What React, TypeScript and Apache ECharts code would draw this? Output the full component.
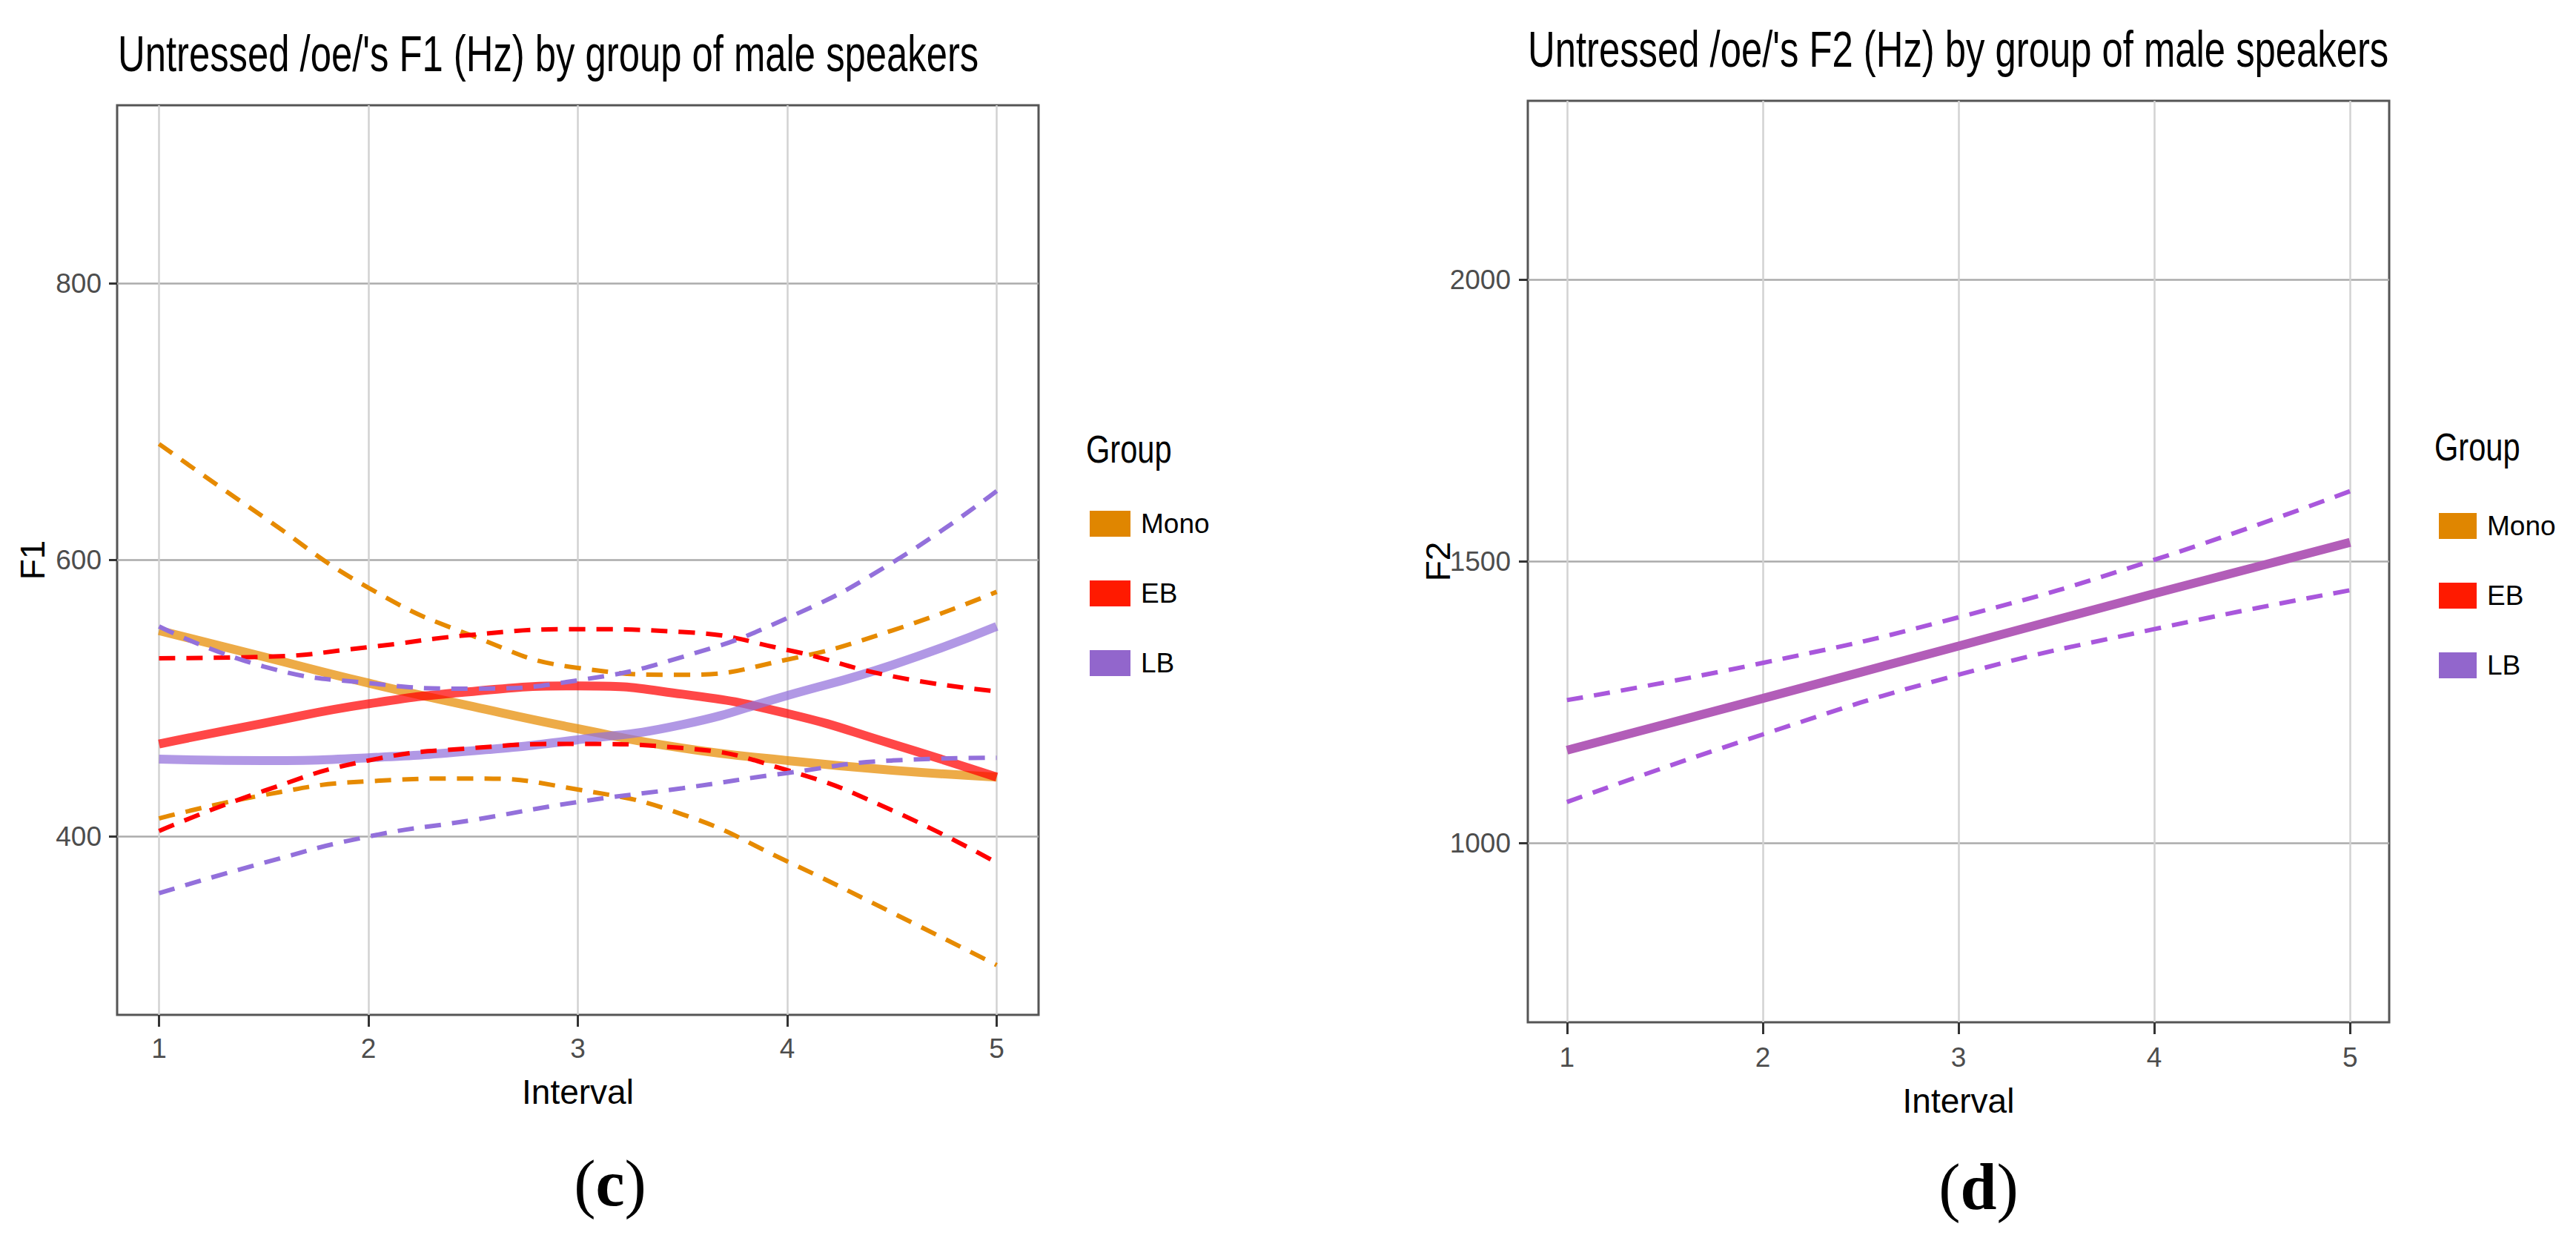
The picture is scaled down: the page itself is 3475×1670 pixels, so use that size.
import React, { useEffect, useRef } from "react";
import * as echarts from "echarts";

// ---------- data ----------
const GROUPS = ["Mono", "EB", "LB"];
const GROUP_SWATCH = ["#E08600", "#FF1A00", "#9266CC"];
const GROUP_LINE = ["#E68A00", "#FF0000", "#9370DB"];

const X_TICKS = [1, 2, 3, 4, 5];
const F1_TICKS = [400, 600, 800];
const F2_TICKS = [1000, 1500, 2000];

// F1 panel (c): fitted curve and confidence bounds, sampled along Interval
const F1_X = [1, 1.5, 2, 2.5, 3, 3.5, 4, 4.5, 5];
const F1_MONO_FIT = [549, 530, 511, 494, 478, 464, 455, 448, 443];
const F1_MONO_UPPER = [684, 631, 580, 545, 522, 517, 528, 549, 577];
const F1_MONO_LOWER = [413, 430, 440, 442, 434, 416, 382, 345, 307];
const F1_EB_FIT = [467, 482, 496, 505, 509, 503, 489, 467, 443];
const F1_EB_UPPER = [529, 530, 537, 546, 550, 548, 535, 516, 505];
const F1_EB_LOWER = [404, 433, 455, 464, 467, 464, 448, 419, 381];
const F1_LB_FIT = [456, 455, 457, 462, 470, 481, 502, 524, 552];
const F1_LB_UPPER = [552, 523, 511, 507, 513, 530, 558, 598, 650];
const F1_LB_LOWER = [359, 381, 400, 412, 425, 435, 446, 455, 457];

// F2 panel (d)
const F2_X = [1, 2, 3, 4, 5];
const F2_LB_FIT = [1165, 1257, 1350, 1443, 1534];
const F2_LB_UPPER = [1254, 1320, 1401, 1503, 1625];
const F2_LB_LOWER = [1073, 1193, 1299, 1380, 1449];

const TITLE_F1 = "Untressed /oe/'s F1 (Hz) by group of male speakers";
const TITLE_F2 = "Untressed /oe/'s F2 (Hz) by group of male speakers";

const F2_FIT_COLOR = "#B25DB8";
const F2_BAND_COLOR = "#A957DC";

const FONT = "'Liberation Sans', Arial, sans-serif";
const SERIF = "'Liberation Serif', 'Times New Roman', serif";

const pts = (xs: number[], ys: number[]) => xs.map((x, i) => [x, ys[i]]);

function fitLine(name: string, xs: number[], ys: number[], color: string, g: number, width: number, opacity: number) {
  return {
    type: "line",
    name,
    xAxisIndex: g,
    yAxisIndex: g,
    data: pts(xs, ys),
    smooth: 0.5,
    symbol: "none",
    showSymbol: false,
    silent: true,
    z: 2,
    itemStyle: { color },
    lineStyle: { color, width, opacity, cap: "butt" },
  };
}

function bandLine(name: string, xs: number[], ys: number[], color: string, g: number) {
  return {
    type: "line",
    name,
    xAxisIndex: g,
    yAxisIndex: g,
    data: pts(xs, ys),
    smooth: 0.5,
    symbol: "none",
    showSymbol: false,
    silent: true,
    z: 3,
    itemStyle: { color },
    lineStyle: { color, width: 6, type: [22, 15], cap: "butt" },
  };
}

function xAxisCfg(g: number, labelMargin: number, nameGap: number) {
  return {
    type: "value",
    gridIndex: g,
    min: 0.8,
    max: 5.2,
    name: "Interval",
    nameLocation: "middle",
    nameGap,
    nameMoveOverlap: false,
    nameTextStyle: { fontFamily: FONT, fontSize: 46, color: "#000" },
    axisLine: { show: false },
    axisTick: { show: true, length: 16, lineStyle: { color: "#333", width: 3 }, customValues: X_TICKS },
    axisLabel: { margin: labelMargin, fontFamily: FONT, fontSize: 37, color: "#4D4D4D", customValues: X_TICKS, formatter: (v: number) => String(v) },
    splitLine: { show: true, lineStyle: { color: "#D2D2D2", width: 2.5 } },
  };
}

function yAxisCfg(g: number, min: number, max: number, ticks: number[], name: string, labelMargin: number, nameGap: number, tickLen: number) {
  return {
    type: "value",
    gridIndex: g,
    min,
    max,
    name,
    nameLocation: "middle",
    nameGap,
    nameMoveOverlap: false,
    nameTextStyle: { fontFamily: FONT, fontSize: 46, color: "#000" },
    axisLine: { show: false },
    axisTick: { show: true, length: tickLen, lineStyle: { color: "#333", width: 3 }, customValues: ticks },
    axisLabel: { margin: labelMargin, fontFamily: FONT, fontSize: 37, color: "#4D4D4D", customValues: ticks, formatter: (v: number) => String(v) },
    splitLine: { show: true, lineStyle: { color: "#ABABAB", width: 2.5 } },
  };
}

function legendCfg(left: number, top: number, itemWidth: number) {
  return {
    orient: "vertical",
    left,
    top,
    itemWidth,
    itemHeight: 35,
    itemGap: 57,
    padding: 0,
    icon: "rect",
    selectedMode: false,
    textStyle: { fontFamily: FONT, fontSize: 37, color: "#000", lineHeight: 35, padding: [0, 0, 0, 9] },
    data: GROUPS.map((g, k) => ({ name: g, itemStyle: { color: GROUP_SWATCH[k], borderWidth: 0, opacity: 1 } })),
  };
}

function scaledText(text: string, x: number, y: number, size: number, scaleX: number) {
  return {
    type: "text",
    x,
    y,
    scaleX,
    silent: true,
    style: { text, fontFamily: FONT, fontSize: size, fill: "#000", align: "left", verticalAlign: "middle" },
  };
}

function panelTag(letter: string, x: number, y: number) {
  return {
    type: "text",
    x,
    y,
    silent: true,
    style: {
      text: "{p|(}{b|" + letter + "}{p|)}",
      align: "center",
      verticalAlign: "middle",
      rich: {
        p: { fontFamily: SERIF, fontSize: 88, fill: "#000", color: "#000" },
        b: { fontFamily: SERIF, fontSize: 88, fontWeight: "bold", fill: "#000", color: "#000" },
      },
    },
  };
}

export default function App() {
  const ref = useRef<HTMLDivElement>(null);

  useEffect(() => {
    if (!ref.current) return;
    const chart = echarts.init(ref.current, undefined, { renderer: "svg" });

    const fits = [F1_MONO_FIT, F1_EB_FIT, F1_LB_FIT];
    const uppers = [F1_MONO_UPPER, F1_EB_UPPER, F1_LB_UPPER];
    const lowers = [F1_MONO_LOWER, F1_EB_LOWER, F1_LB_LOWER];

    const series: any[] = [];
    GROUPS.forEach((g, k) => {
      series.push(fitLine(g, F1_X, fits[k], GROUP_LINE[k], 0, 12, 0.72));
    });
    GROUPS.forEach((g, k) => {
      series.push(bandLine(g, F1_X, uppers[k], GROUP_LINE[k], 0));
      series.push(bandLine(g, F1_X, lowers[k], GROUP_LINE[k], 0));
    });
    series.push(fitLine("LB", F2_X, F2_LB_FIT, F2_FIT_COLOR, 1, 12, 1));
    series.push(bandLine("LB", F2_X, F2_LB_UPPER, F2_BAND_COLOR, 1));
    series.push(bandLine("LB", F2_X, F2_LB_LOWER, F2_BAND_COLOR, 1));

    const option: any = {
      animation: false,
      backgroundColor: "#fff",
      grid: [
        { left: 158, top: 142, width: 1243, height: 1227, show: true, borderColor: "#555", borderWidth: 3, backgroundColor: "transparent", outerBoundsMode: "none" },
        { left: 2061, top: 136, width: 1162, height: 1243, show: true, borderColor: "#555", borderWidth: 3, backgroundColor: "transparent", outerBoundsMode: "none" },
      ],
      xAxis: [xAxisCfg(0, 27, 81), xAxisCfg(1, 29, 83)],
      yAxis: [
        yAxisCfg(0, 271, 929, F1_TICKS, "F1", 21, 91, 11),
        yAxisCfg(1, 682, 2318, F2_TICKS, "F2", 23, 98, 12),
      ],
      legend: [legendCfg(1470, 688, 55), legendCfg(3290, 691, 51)],
      graphic: [
        scaledText(TITLE_F1, 159, 73, 68, 0.747),
        scaledText(TITLE_F2, 2061, 67, 68, 0.747),
        scaledText("Group", 1465, 606, 52, 0.8),
        scaledText("Group", 3284, 603, 52, 0.8),
        panelTag("c", 823, 1596),
        panelTag("d", 2669, 1601),
      ],
      series,
    };

    chart.setOption(option);
    return () => chart.dispose();
  }, []);

  return <div ref={ref} style={{ position: "absolute", left: 0, top: 0, width: 3475, height: 1670, background: "#fff" }} />;
}
